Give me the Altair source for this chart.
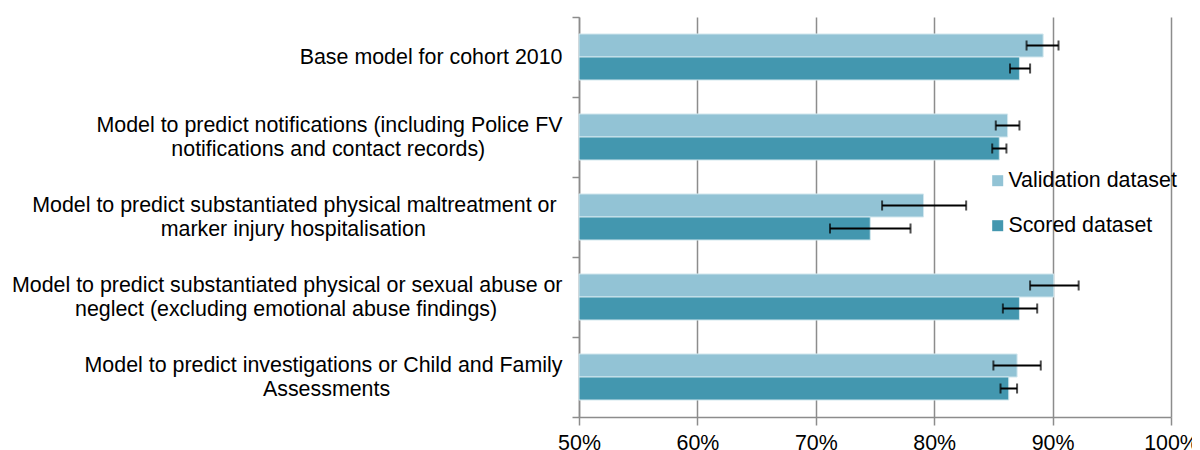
import json
import altair as alt
import pandas as pd

categories = [
    "Base model for cohort 2010",
    "Model to predict notifications (including Police FV\nnotifications and contact records)",
    "Model to predict substantiated physical maltreatment or\nmarker injury hospitalisation",
    "Model to predict substantiated physical or sexual abuse or\nneglect (excluding emotional abuse findings)",
    "Model to predict investigations or Child and Family\nAssessments",
]
series_names = ["Validation dataset", "Scored dataset"]
series_colors = ["#92C3D5", "#4397AF"]

validation = [0.892, 0.862, 0.791, 0.901, 0.870]
validation_lo = [0.878, 0.852, 0.756, 0.881, 0.850]
validation_hi = [0.905, 0.872, 0.827, 0.922, 0.890]

scored = [0.872, 0.855, 0.746, 0.872, 0.863]
scored_lo = [0.864, 0.849, 0.712, 0.858, 0.856]
scored_hi = [0.881, 0.861, 0.780, 0.887, 0.870]

tick_values = [0.5, 0.6, 0.7, 0.8, 0.9, 1.0]

rows = []
for i, c in enumerate(categories):
    rows.append(dict(category=c, series=series_names[0], value=validation[i],
                     lo=validation_lo[i], hi=validation_hi[i]))
    rows.append(dict(category=c, series=series_names[1], value=scored[i],
                     lo=scored_lo[i], hi=scored_hi[i]))
df = pd.DataFrame(rows)

# Layout only: centre the second line of each wrapped label under the first
# (Excel-style) by padding it with no-break spaces (a zero-width space at the
# end keeps the padding from being trimmed).  Half-height line steps with
# zero-width spacer lines keep every label block centred on its band.
NBSP = "\u00a0"
ZWSP = "\u200b"
line_pads = [(0, 0), (0, 13), (1, 23), (0, 11), (0, 29)]
expr = ""
for cat, (p1, p2) in zip(categories, line_pads):
    parts = cat.split("\n")
    if len(parts) == 1:
        lines = [ZWSP, parts[0]]
    else:
        lines = [parts[0] + (NBSP * p1 + ZWSP if p1 else ""),
                 ZWSP,
                 parts[1] + (NBSP * p2 + ZWSP if p2 else "")]
    expr += (f"datum.label == {json.dumps(cat, ensure_ascii=False)} ? "
             f"{json.dumps(lines, ensure_ascii=False)} : ")
expr += "datum.label"

GRID = "#8c8c8c"
FS = 21.4

y_enc = alt.Y(
    "category:N",
    sort=categories,
    scale=alt.Scale(paddingInner=0, paddingOuter=0),
    axis=alt.Axis(
        title=None,
        labelExpr=expr,
        labelFontSize=FS,
        labelLineHeight=12,
        labelLimit=0,
        labelColor="#000000",
        labelPadding=10,
        labelOffset=-12,
        tickBand="extent",
        tickSize=7,
        tickColor=GRID,
        tickWidth=1.5,
        domainColor=GRID,
        domainWidth=1.5,
        grid=False,
    ),
)
yoff = alt.YOffset("series:N", sort=series_names,
                   scale=alt.Scale(paddingInner=0, paddingOuter=0.739))

x_scale = alt.Scale(domain=[0.5, 1.0], zero=False, nice=False)

base = alt.Chart(df)

bars = base.mark_bar(stroke="#d2e7ee", strokeWidth=1).encode(
    y=y_enc,
    yOffset=yoff,
    x=alt.X(
        "value:Q",
        scale=x_scale,
        axis=alt.Axis(
            title=None,
            format=".0%",
            values=tick_values,
            labelFontSize=FS,
            labelColor="#000000",
            labelPadding=7,
            labelFlush=False,
            labelOverlap=False,
            grid=True,
            gridColor=GRID,
            gridWidth=1.5,
            domainColor=GRID,
            domainWidth=1.5,
            tickColor=GRID,
            tickWidth=1.5,
            tickSize=8,
        ),
    ),
    x2=alt.datum(0.5),
    color=alt.Color(
        "series:N",
        scale=alt.Scale(domain=series_names, range=series_colors),
        legend=alt.Legend(
            title=None,
            orient="none",
            legendX=408,
            legendY=153,
            symbolType="square",
            symbolSize=121,
            symbolStrokeWidth=0,
            labelFontSize=FS,
            labelColor="#000000",
            labelOffset=0,
            labelLimit=0,
            rowPadding=22,
        ),
    ),
)

rules = base.mark_rule(color="black", strokeWidth=2).encode(
    y=alt.Y("category:N", sort=categories),
    yOffset=yoff,
    x=alt.X("lo:Q", scale=x_scale),
    x2="hi:Q",
)
cap_lo = base.mark_tick(color="black", thickness=2, size=10).encode(
    y=alt.Y("category:N", sort=categories),
    yOffset=yoff,
    x=alt.X("lo:Q", scale=x_scale),
)
cap_hi = base.mark_tick(color="black", thickness=2, size=10).encode(
    y=alt.Y("category:N", sort=categories),
    yOffset=yoff,
    x=alt.X("hi:Q", scale=x_scale),
)

chart = alt.layer(bars, rules, cap_lo, cap_hi).properties(
    width=592,
    height=400,
    padding={"left": 571, "top": 9, "right": 21, "bottom": 33},
    autosize=alt.AutoSizeParams(type="none"),
).configure(
    font="Liberation Sans",
).configure_view(stroke=None)

chart.save("out.html", embed_options={"renderer": "svg", "actions": False})
